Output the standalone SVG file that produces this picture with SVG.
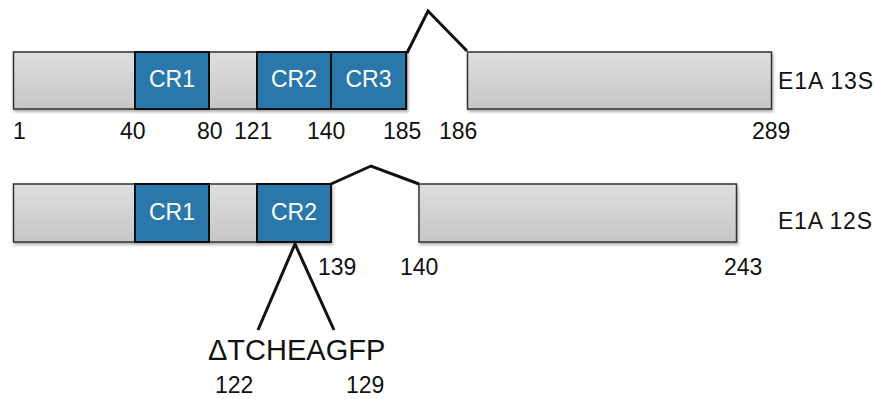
<svg xmlns="http://www.w3.org/2000/svg" width="875" height="399" viewBox="0 0 875 399">
  <defs>
    <linearGradient id="gray" x1="0" y1="0" x2="0" y2="1">
      <stop offset="0" stop-color="#dedfe1"/>
      <stop offset="1" stop-color="#c6c6c7"/>
    </linearGradient>
    <filter id="shadow" x="-5%" y="-10%" width="110%" height="130%">
      <feDropShadow dx="1" dy="2" stdDeviation="1.5" flood-color="#000" flood-opacity="0.35"/>
    </filter>
  </defs>
  <style>
    .seg { fill: url(#gray); stroke: #333; stroke-width: 1.5; }
    .cr { fill: #2b78ab; stroke: #111; stroke-width: 2; }
    .crt { fill: #fff; font-family: "Liberation Sans", Arial, sans-serif; font-size: 23px; text-anchor: middle; }
    .num { fill: #111; font-family: "Liberation Sans", Arial, sans-serif; font-size: 23px; }
    .lbl { fill: #111; font-family: "Liberation Sans", Arial, sans-serif; font-size: 23px; }
    .big { fill: #111; font-family: "Liberation Sans", Arial, sans-serif; font-size: 29px; }
    .link { fill: none; stroke: #111; stroke-width: 3; stroke-linejoin: miter; }
  </style>

  <!-- E1A 13S isoform -->
  <g id="e1a13s">
    <g id="e1a13s-exon1" filter="url(#shadow)">
      <rect class="seg" x="13.5" y="52" width="393" height="57"/>
      <rect class="cr" x="135" y="52" width="74" height="57"/>
      <rect class="cr" x="257" y="52" width="74" height="57"/>
      <rect class="cr" x="331" y="52" width="75" height="57"/>
    </g>
    <text class="crt" x="172" y="87">CR1</text>
    <text class="crt" x="294" y="87">CR2</text>
    <text class="crt" x="368.5" y="87">CR3</text>
    <rect id="e1a13s-exon2" class="seg" x="467.5" y="52" width="304" height="57" filter="url(#shadow)"/>
    <text class="lbl" x="778" y="89" textLength="95" lengthAdjust="spacing">E1A 13S</text>
    <g class="num">
      <text x="13" y="139">1</text>
      <text x="120" y="139">40</text>
      <text x="197" y="139">80</text>
      <text x="234" y="139">121</text>
      <text x="307" y="139">140</text>
      <text x="383" y="139">185</text>
      <text x="439" y="139">186</text>
      <text x="752" y="139">289</text>
    </g>
  </g>

  <!-- E1A 12S isoform -->
  <g id="e1a12s">
    <g id="e1a12s-exon1" filter="url(#shadow)">
      <rect class="seg" x="13.5" y="184" width="317.5" height="58"/>
      <rect class="cr" x="135" y="184" width="74" height="58"/>
      <rect class="cr" x="257" y="184" width="74" height="58"/>
    </g>
    <text class="crt" x="172" y="220">CR1</text>
    <text class="crt" x="294" y="220">CR2</text>
    <rect id="e1a12s-exon2" class="seg" x="419" y="184" width="317.5" height="58" filter="url(#shadow)"/>
    <text class="lbl" x="778" y="229" textLength="94" lengthAdjust="spacing">E1A 12S</text>
    <g class="num">
      <text x="318" y="275">139</text>
      <text x="400" y="275">140</text>
      <text x="724" y="275">243</text>
    </g>
  </g>

  <!-- deletion callout -->
  <g id="deletion">
    <text class="big" x="208" y="360">ΔTCHEAGFP</text>
    <text class="num" x="215" y="393">122</text>
    <text class="num" x="346" y="393">129</text>
  </g>

  <!-- splice junctions and deletion lines -->
  <g id="connectors">
    <polyline class="link" points="407,53 428,11 467,51"/>
    <polyline class="link" points="331,184 371,166 419,184"/>
    <polyline class="link" points="258,330 295,244 334,330"/>
  </g>
</svg>
